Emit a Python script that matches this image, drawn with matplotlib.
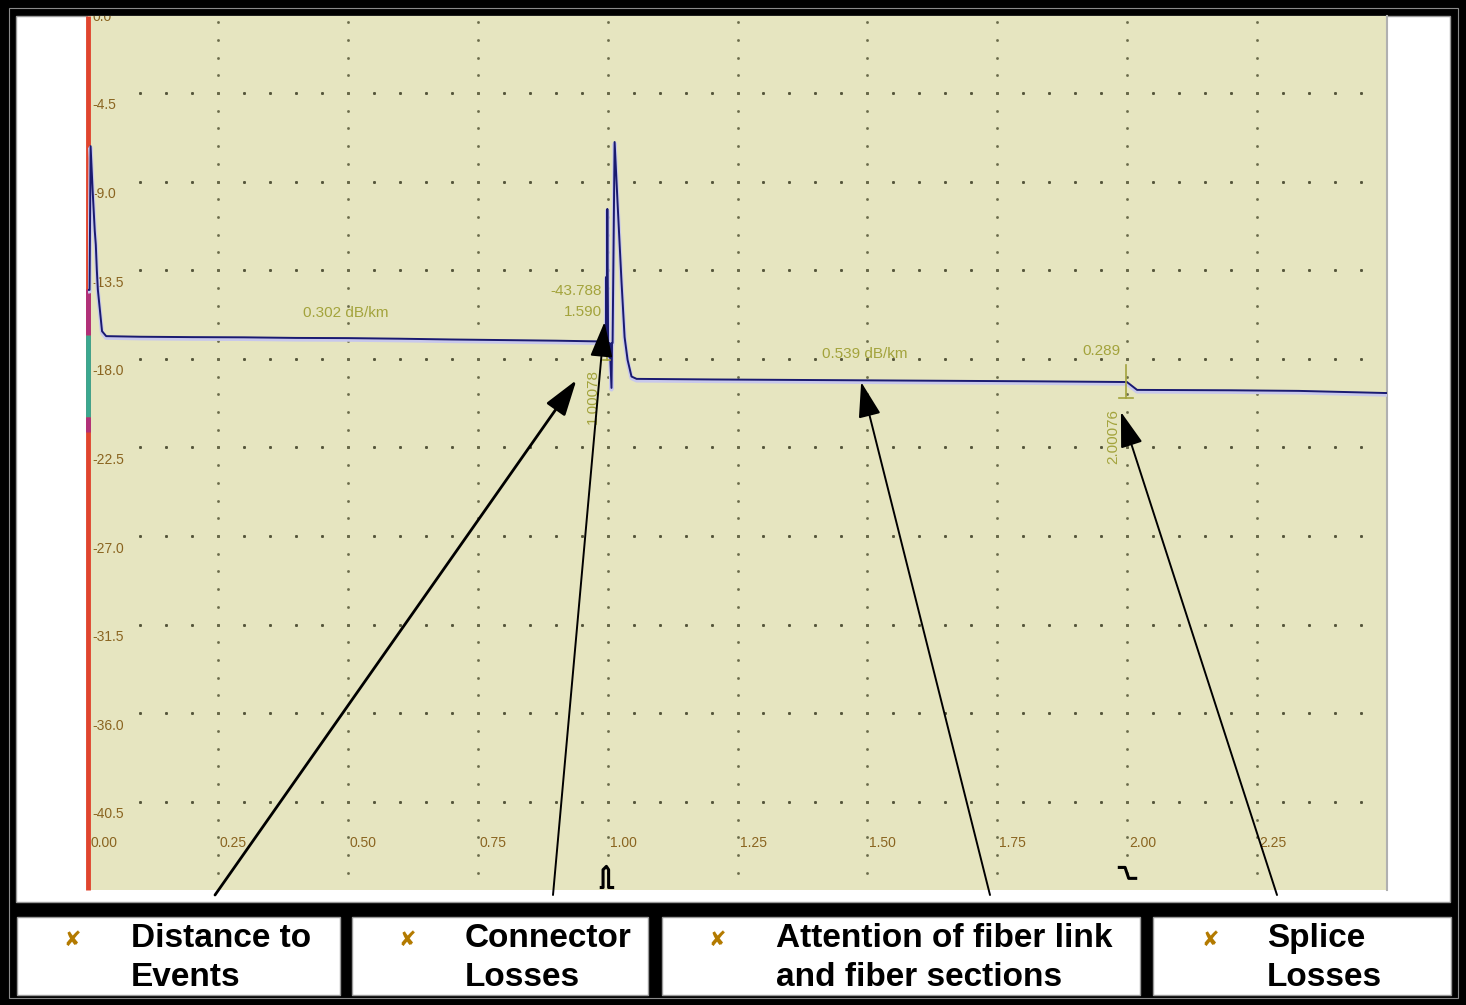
import numpy as np
import matplotlib.pyplot as plt
from matplotlib.patches import Rectangle
from matplotlib.path import Path

plt.rcParams['font.family'] = ['Liberation Sans', 'DejaVu Sans']

# ---------------------------------------------------------------- #
# OTDR trace data (distance in km, level in dB)
trace_km = [0.000, 0.003, 0.005, 0.009, 0.013, 0.015, 0.017, 0.019, 0.027, 0.035,
            0.10, 0.20, 0.30, 0.40, 0.50, 0.60, 0.70, 0.80, 0.90, 0.990,
            0.9965, 0.9975, 0.998, 0.9995, 1.001, 1.003, 1.004, 1.0075, 1.0085,
            1.0096, 1.0135, 1.0192, 1.0269, 1.0327, 1.0385, 1.046, 1.0558,
            1.20, 1.40, 1.60, 1.80, 1.90, 1.9995, 2.019, 2.20, 2.33, 2.50]
trace_db = [-14.5, -14.5, -7.2, -9.5, -11.5, -12.2, -13.5, -14.5, -16.6, -16.85,
            -16.88, -16.90, -16.91, -16.94, -16.95, -16.98, -17.02, -17.05, -17.08, -17.12,
            -17.15, -13.84, -17.2, -10.39, -17.2, -17.9, -17.2, -19.48, -17.2,
            -17.2, -6.99, -10.1, -14.15, -16.9, -18.06, -18.9, -19.02,
            -19.05, -19.08, -19.11, -19.14, -19.16, -19.18, -19.58, -19.60, -19.63, -19.74]

y_ticks = [0.0, -4.5, -9.0, -13.5, -18.0, -22.5, -27.0, -31.5, -36.0, -40.5]
x_ticks = [0.00, 0.25, 0.50, 0.75, 1.00, 1.25, 1.50, 1.75, 2.00, 2.25]

section_labels = ['0.302 dB/km', '0.539 dB/km']
section_km = [0.496, 1.494]
section_db = [-15.67, -17.75]

event_km = [0.998, 1.998]
event_distance = ['1.00078', '2.00076']
connector_values = ['-43.788', '1.590']
splice_loss = '0.289'

legend_items = ['Distance to\nEvents', 'Connector\nLosses',
                'Attention of fiber link\nand fiber sections', 'Splice\nLosses']
arrow_target_km = [0.940, 0.994, 1.488, 1.988]
arrow_target_db = [-19.08, -16.13, -19.18, -20.70]

# ---------------------------------------------------------------- #
W, H = 1466, 1005
BEIGE = '#e6e5c0'
OLIVE = '#a3a33c'
BROWN = '#8a6420'

def fx(x):
    return x / W

def fy(y):
    return 1 - y / H

fig = plt.figure(figsize=(W / 100, H / 100), dpi=100, facecolor='black')

# white panels (plot panel + four legend boxes), behind the axes
fig.add_artist(Rectangle((fx(16), fy(902)), fx(1450) - fx(16), fy(16) - fy(902),
                         transform=fig.transFigure, facecolor='white',
                         edgecolor='#9a9a9a', lw=1, zorder=-2))
box_px = [(17, 340), (352, 648), (662, 1140), (1153, 1451)]
for x0, x1 in box_px:
    fig.add_artist(Rectangle((fx(x0), fy(995)), fx(x1) - fx(x0), fy(917) - fy(995),
                             transform=fig.transFigure, facecolor='white',
                             edgecolor='#9a9a9a', lw=1, zorder=-2))
# thin gray line inside the black frame
fig.add_artist(Rectangle((fx(8.5), fy(998)), fx(1457.5) - fx(8.5), fy(8.5) - fy(998),
                         transform=fig.transFigure, fill=False,
                         edgecolor='#8a8a8a', lw=0.8, zorder=-1))

# legend texts
marker_x = [72, 407, 717, 1210]
text_x = [131, 465, 776, 1267]
for mx, tx, label in zip(marker_x, text_x, legend_items):
    fig.text(fx(mx), fy(940), '\u2718', color='#b37a00', fontsize=15,
             ha='center', va='center', family='DejaVu Sans')
    lines = label.split('\n')
    fig.text(fx(tx), fy(938), lines[0], fontsize=24, fontweight='bold',
             ha='left', va='center')
    fig.text(fx(tx), fy(977), lines[1], fontsize=24, fontweight='bold',
             ha='left', va='center')

# ---------------------------------------------------------------- #
# Axes
ax = fig.add_axes([fx(88), fy(890), fx(1387) - fx(88), fy(16) - fy(890)])
ax.set_facecolor(BEIGE)
ax.set_xlim(0, 2.5)
ax.set_ylim(-44.98, -0.59)
ax.set_xticks([])
ax.set_yticks([])
for s in ['top', 'bottom', 'left']:
    ax.spines[s].set_visible(False)
ax.spines['right'].set_color('#b0b0b0')
ax.spines['right'].set_linewidth(1.5)

# dotted grid
for yv in y_ticks[1:]:
    xs = np.arange(0.10, 2.5, 0.05)
    ax.plot(xs, np.full_like(xs, yv), ls='none', marker='s', ms=1.1,
            color='#55553a', zorder=1)
for xv in x_ticks[1:]:
    ys = np.arange(-0.9, -45, -0.9)
    ax.plot(np.full_like(ys, xv), ys, ls='none', marker='s', ms=0.9,
            color='#6a6a4a', zorder=1)

# left axis coloured bar
ax.plot([0, 0], [-0.59, -44.98], color='#e0452e', lw=3.5, solid_capstyle='butt',
        clip_on=False, zorder=4)
ax.plot([0, 0], [-14.44, -16.78], color='#b0307a', lw=3.5, solid_capstyle='butt',
        clip_on=False, zorder=5)
ax.plot([0, 0], [-16.78, -20.94], color='#3aa890', lw=3.5, solid_capstyle='butt',
        clip_on=False, zorder=5)
ax.plot([0, 0], [-20.94, -21.70], color='#b0307a', lw=3.5, solid_capstyle='butt',
        clip_on=False, zorder=5)

# tick labels
for yv in y_ticks:
    ax.text(0.008, yv - 0.28, f'{yv:.1f}', color=BROWN, fontsize=10,
            ha='left', va='top', clip_on=True)
for xv in x_ticks:
    ax.text(xv + 0.004, -42.6, f'{xv:.2f}', color=BROWN, fontsize=10,
            ha='left', va='center', clip_on=True)

# trace
ax.plot(trace_km, np.array(trace_db) - 0.08, color='#c8c8ec', lw=3, zorder=6)
ax.plot(trace_km, trace_db, color='#1a1a70', lw=1.4, zorder=7)

# annotations on trace
for lab, xk, yd in zip(section_labels, section_km, section_db):
    ax.text(xk, yd, lab, color=OLIVE, fontsize=11, ha='center', va='center')
ax.text(0.989, -14.55, connector_values[0], color=OLIVE, fontsize=11,
        ha='right', va='center')
ax.text(0.989, -15.62, connector_values[1], color=OLIVE, fontsize=11,
        ha='right', va='center')
ax.text(1.95, -17.6, splice_loss, color=OLIVE, fontsize=11, ha='center', va='center')
ax.text(0.971, -19.94, event_distance[0], color=OLIVE, fontsize=11,
        ha='center', va='center', rotation=90)
ax.text(1.973, -21.97, event_distance[1], color=OLIVE, fontsize=11,
        ha='center', va='center', rotation=90)

# event cursors
ax.plot([event_km[0], event_km[0]], [-17.2, -18.06], color=OLIVE, lw=1.2, zorder=8)
ax.plot([event_km[0] - 0.006, event_km[0] + 0.006], [-18.06, -18.06], color=OLIVE,
        lw=1.2, zorder=8)
ax.plot([event_km[1], event_km[1]], [-18.31, -19.99], color=OLIVE, lw=1.2, zorder=8)
ax.plot([event_km[1] - 0.014, event_km[1] + 0.014], [-19.99, -19.99], color=OLIVE,
        lw=1.2, zorder=8)

# event glyphs under the axis
pulse = Path([(-0.7, -0.9), (-0.4, -0.9), (-0.4, 0.7), (-0.1, 1.0), (0.1, 0.7),
              (0.1, -0.9), (0.6, -0.9)])
step = Path([(-0.8, 0.5), (-0.2, 0.5), (0.1, -0.4), (0.8, -0.4)])
ax.plot(event_km[0], -44.3, marker=pulse, ms=16, mfc='none', mec='black', mew=2.2,
        zorder=8)
ax.plot(event_km[1] + 0.002, -44.1, marker=step, ms=14, mfc='none', mec='black',
        mew=2.2, zorder=8)

# arrows from the legend row
start_px = [(215, 895), (553, 895), (990, 895), (1277, 895)]
arrow_lw = [2.0, 1.4, 1.4, 1.4]
for (sx, sy), xk, yd, lw in zip(start_px, arrow_target_km, arrow_target_db, arrow_lw):
    ax.annotate('', xy=(xk, yd), xycoords='data',
                xytext=(sx, H - sy), textcoords='figure pixels',
                arrowprops=dict(arrowstyle='-|>,head_length=1.1,head_width=0.35',
                                mutation_scale=20, lw=lw, color='black',
                                shrinkA=0, shrinkB=0),
                annotation_clip=False, zorder=10)

fig.savefig('out.png', dpi=100, facecolor='black')
